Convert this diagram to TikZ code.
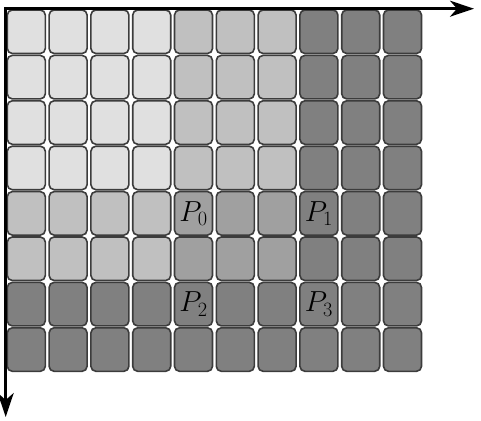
\RequirePackage{fix-cm}
\documentclass[tikz,border=0pt]{standalone}
\usepackage{amsmath,amssymb}
\usepackage{tikz}
\usetikzlibrary{arrows.meta}

\definecolor{shade0}{HTML}{E0E0E0}
\definecolor{shade1}{HTML}{C0C0C0}
\definecolor{shade2}{HTML}{A0A0A0}
\definecolor{shade3}{HTML}{808080}
\definecolor{cellrim}{HTML}{3C3C3C}

\tikzset{
  cell/.style={
    draw=cellrim,
    line width=1.6pt,
    rounded corners=5pt,
    inner sep=0pt,
    minimum width=38pt,
    minimum height=43.5pt},
  ptlabel/.style={
    inner sep=0pt,
    font=\fontsize{29}{34}\selectfont},
  axis/.style={
    line width=2.5pt,
    {Stealth[length=24pt,width=16pt,inset=7pt]}-{Stealth[length=24pt,width=16pt,inset=7pt]}}
}

\begin{document}
\begin{tikzpicture}[x=1pt,y=-1pt]
  \useasboundingbox
    (0,0)
    rectangle
    (481,420);
  % grid of blocks
  \foreach \i in {0,...,9}{
    \foreach \j in {0,...,7}{
      \pgfmathtruncatemacro{\lvl}{(\i>6 || \j>5) ? 3 : ((\i>3 && \j>3) ? 2 : ((\i>3 || \j>3) ? 1 : 0))}
      \node[cell,fill=shade\lvl]
        (c-\i-\j)
        at ({26.3+41.8*\i},{31.75+45.4*\j})
        {};
    }
  }
  \node[ptlabel] (p0) at (c-4-4) {$P_0$};
  \node[ptlabel] (p1) at (c-7-4) {$P_1$};
  \node[ptlabel] (p2) at (c-4-6) {$P_2$};
  \node[ptlabel] (p3) at (c-7-6) {$P_3$};
  % axes
  \coordinate (o) at (5.7,8.7);
  \coordinate (xend) at (474,8.7);
  \coordinate (yend) at (5.7,417);
  \draw[axis]
    (yend)
    --
    (o)
    --
    (xend);
\end{tikzpicture}
\end{document}
